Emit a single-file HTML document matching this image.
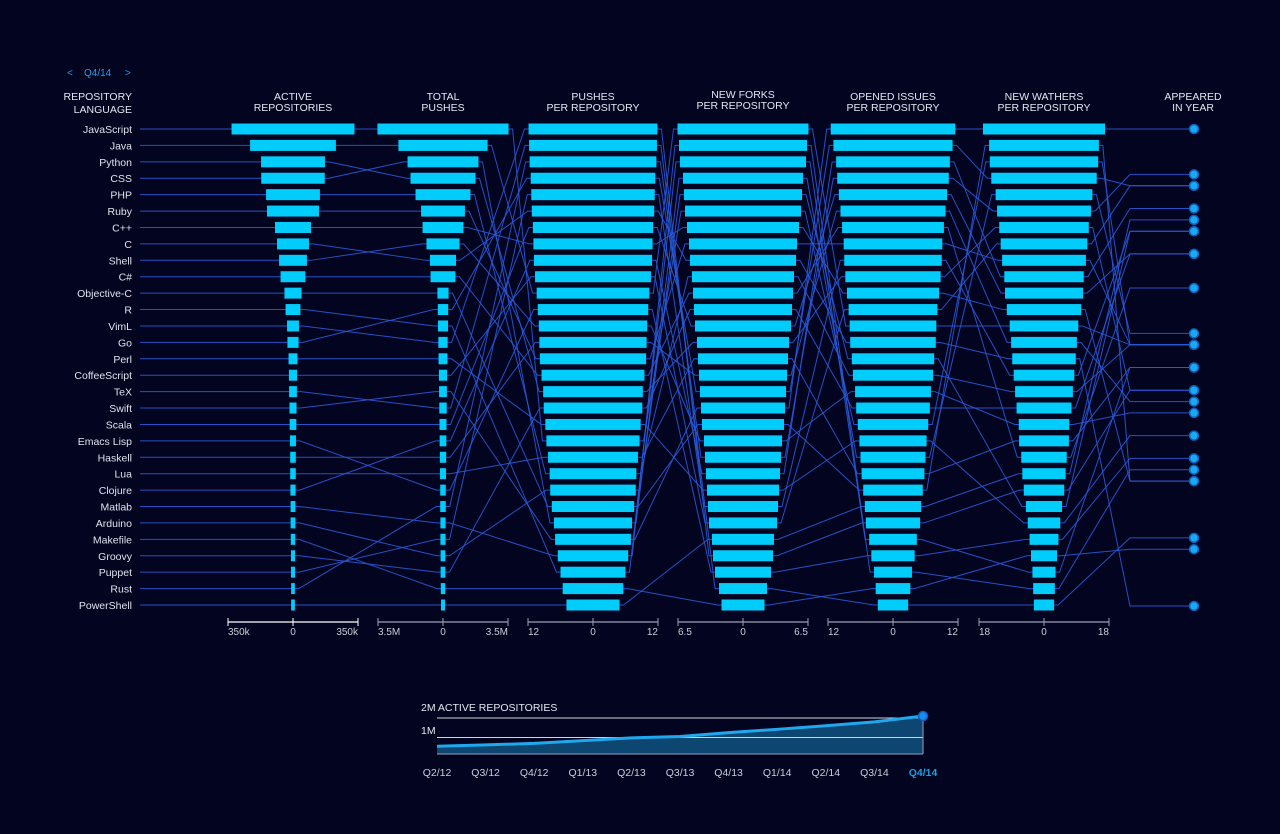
<!DOCTYPE html>
<html><head><meta charset="utf-8"><style>
html,body{margin:0;padding:0;background:#03041f;}
svg{display:block;font-family:"Liberation Sans",sans-serif;}
</style></head><body>
<svg id="c" width="1280" height="834" viewBox="0 0 1280 834">
<rect width="1280" height="834" fill="#03041f"/>
<g>
<text x="67" y="76" fill="#1e9fe8" font-size="10">&lt;</text>
<text x="84" y="76" fill="#1e9fe8" font-size="10">Q4/14</text>
<text x="125" y="76" fill="#1e9fe8" font-size="10">&gt;</text>
</g>
<text x="132" y="100" fill="#e2e6f0" font-size="10.5" text-anchor="end"><tspan x="132">REPOSITORY</tspan><tspan x="132" dy="13">LANGUAGE</tspan></text>
<g id="lines"></g>
<g id="bars"></g>
<g id="labels"></g>
<g id="axes"></g>
<g id="mini"></g>
</svg>
<script>
const NS="http://www.w3.org/2000/svg";
const languages=["JavaScript","Java","Python","CSS","PHP","Ruby","C++","C","Shell","C#","Objective-C","R","VimL","Go","Perl","CoffeeScript","TeX","Swift","Scala","Emacs Lisp","Haskell","Lua","Clojure","Matlab","Arduino","Makefile","Groovy","Puppet","Rust","PowerShell"];
const activeRepos=[331,231,172,171,145,140,97,86,75,67,46,40,32,30,24,22,21,19,18,16,15,15,14,13,13,12,11,11,10,10];
const totalPushes=[3.53,2.4,1.75,1.91,1.48,1.18,1.1,0.7,0.89,0.67,0.3,0.27,0.25,0.28,0.24,0.22,0.2,0.21,0.19,0.15,0.17,0.16,0.18,0.14,0.13,0.12,0.13,0.14,0.15,0.11];
const pushesPerRepo=[8.6,10.4,9.2,7.2,8.0,9.8,11.0,11.3,10.0,9.5,7.6,6.0,11.9,11.5,8.8,10.7,11.8,7.0,11.1,10.2,9.9,8.3,10.9,6.5,7.9,5.6,9.1,11.4,11.7,4.9];
const forksPerRepo=[5.8,6.55,4.6,6.0,5.1,5.4,5.6,5.3,3.9,5.0,4.1,6.3,3.0,4.3,3.6,3.4,2.4,4.2,4.8,2.8,4.4,4.5,3.7,6.4,5.9,2.15,4.9,3.5,3.8,3.1];
const issuesPerRepo=[6.5,8.0,8.8,6.0,7.4,9.1,8.5,7.9,7.0,9.4,5.5,4.4,5.0,11.0,6.2,8.2,2.8,11.5,10.0,4.0,9.7,5.8,10.5,3.5,7.6,3.2,6.8,9.0,10.3,5.2];
const watchersPerRepo=[15.0,9.5,12.4,13.4,8.0,11.6,10.3,8.8,7.0,6.3,15.2,3.2,5.6,14.6,4.5,12.0,2.8,16.9,10.8,4.0,9.1,6.9,11.0,3.0,5.0,3.6,7.6,8.4,13.0,6.0];
const appearedYear=[1995,1995,1991,1996,1995,1995,1983,1972,1989,2000,1983,1993,1991,2009,1987,2009,1978,2014,2003,1985,1990,1993,2007,1984,2005,1977,2003,2005,2010,2006];
const columnTitles=[["ACTIVE","REPOSITORIES"],["TOTAL","PUSHES"],["PUSHES","PER REPOSITORY"],["NEW FORKS","PER REPOSITORY"],["OPENED ISSUES","PER REPOSITORY"],["NEW WATHERS","PER REPOSITORY"]];
const axisMax=[350,3.5,12,6.5,12,18];
const axisLabels=[["350k","0","350k"],["3.5M","0","3.5M"],["12","0","12"],["6.5","0","6.5"],["12","0","12"],["18","0","18"]];
const quarters=["Q2/12","Q3/12","Q4/12","Q1/13","Q2/13","Q3/13","Q4/13","Q1/14","Q2/14","Q3/14","Q4/14"];
const activeTotalM=[0.55,0.62,0.7,0.84,0.98,1.05,1.25,1.42,1.6,1.8,2.1];

const cols=[activeRepos,totalPushes,pushesPerRepo,forksPerRepo,issuesPerRepo,watchersPerRepo];
const centers=[293,443,593,743,893,1044];
const HALF=65,Y0=129,STEP=(605-129)/29,BH=11;
const rowY=r=>Y0+r*STEP;
const halfW=(c,v)=>v/axisMax[c]*HALF;
const yearY=y=>129+(2014-y)*477/42;
function el(t,a,p){const e=document.createElementNS(NS,t);for(const k in a)e.setAttribute(k,a[k]);if(p)p.appendChild(e);return e;}
const gL=document.getElementById('lines'),gB=document.getElementById('bars'),gT=document.getElementById('labels'),gA=document.getElementById('axes');
const ranks=cols.map(arr=>{const idx=arr.map((v,i)=>i).sort((a,b)=>arr[b]-arr[a]||a-b);const r=[];idx.forEach((i,k)=>r[i]=k);return r;});
const svg=document.getElementById('c');
// titles
columnTitles.forEach((t,c)=>{
 const tx=el('text',{x:centers[c],y:c<2?100:(c==3?98:100),fill:'#e2e6f0','font-size':'10.5','text-anchor':'middle'},svg);
 
 
 const a=el('tspan',{x:centers[c]},tx);a.textContent=t[0];
 const b=el('tspan',{x:centers[c],dy:11},tx);b.textContent=t[1];
});
{const tx=el('text',{x:1193,y:100,fill:'#e2e6f0','font-size':'10.5','text-anchor':'middle'},svg);


el('tspan',{x:1193},tx).textContent="APPEARED";el('tspan',{x:1193,dy:11},tx).textContent="IN YEAR";}
const LC='#2a5ad8';
languages.forEach((lang,i)=>{
 const t=el('text',{x:132,y:rowY(i)+4,fill:'#dfe3ee','font-size':'10.5','text-anchor':'end'},gT);
 
 
 t.textContent=lang;
 let pts=[[140,rowY(ranks[0][i])]];
 cols.forEach((arr,c)=>{
  const y=rowY(ranks[c][i]),h=halfW(c,arr[i]);
  const xl=centers[c]-h,xr=centers[c]+h;
  pts.push([xl-4,y],[xl,y],[xr,y],[xr+4,y]);
  const r=el('rect',{x:xl,y:y-BH/2,width:Math.max(2*h,3),height:BH,fill:'#00cdfb'},gB);
  
  
 });
 const dy=yearY(appearedYear[i]);
 pts.push([1130,dy],[1194,dy]);
 const p=el('polyline',{points:pts.map(p=>p.join(',')).join(' '),fill:'none',stroke:LC,'stroke-width':1,opacity:0.9},gL);
 
 
 const d=el('circle',{cx:1194,cy:dy,r:4.5,fill:'#1aa8f0',stroke:'#0a5fbf','stroke-width':1.5},svg);
 
 
});
// axes
centers.forEach((cx,c)=>{
 const col=c==0?'#ffffff':'#9aa0b4';
 el('line',{x1:cx-HALF,x2:cx+HALF,y1:622,y2:622,stroke:col,'stroke-width':1.3},gA);
 [-HALF,0,HALF].forEach((o,k)=>{
  el('line',{x1:cx+o,x2:cx+o,y1:618,y2:626,stroke:col},gA);
  const t=el('text',{x:cx+o,y:635,fill:'#c9cdd9','font-size':'10','text-anchor':k==0?'start':k==2?'end':'middle'},gA);
  
  
  t.textContent=axisLabels[c][k];
 });
});
// mini chart
const gM=document.getElementById('mini');
const mx=i=>437+i*(923-437)/(quarters.length-1);
const my=v=>757-v*19.5;
let area=`M437,754 `+activeTotalM.map((v,i)=>`L${mx(i)},${my(v)}`).join(' ')+` L923,754 Z`;
const ar=el('path',{d:area,fill:'#0d4670'},gM);


el('line',{x1:437,x2:923,y1:my(1),y2:my(1),stroke:'#d0d4de','stroke-width':1},gM);
el('line',{x1:437,x2:923,y1:my(2),y2:my(2),stroke:'#d0d4de','stroke-width':1},gM);
el('line',{x1:923,x2:923,y1:my(2.1),y2:754,stroke:'#9aa0b4','stroke-width':1},gM);
el('line',{x1:437,x2:923,y1:754,y2:754,stroke:'#9aa0b4','stroke-width':1},gM);
const ln=el('polyline',{points:activeTotalM.map((v,i)=>mx(i)+','+my(v)).join(' '),fill:'none',stroke:'#1fa8ee','stroke-width':3},gM);


const ed=el('circle',{cx:mx(10),cy:my(activeTotalM[10]),r:4.5,fill:'#1a8cf0',stroke:'#0a5fbf','stroke-width':1.5},gM);


const t2=el('text',{x:421,y:711,fill:'#e2e6f0','font-size':'10.5'},gM);t2.textContent="2M ACTIVE REPOSITORIES";


const t1=el('text',{x:421,y:734,fill:'#e2e6f0','font-size':'10.5'},gM);t1.textContent="1M";


quarters.forEach((q,i)=>{
 const last=i==quarters.length-1;
 const t=el('text',{x:mx(i),y:776,fill:last?'#1e9fe8':'#c9cdd9','font-size':'10.5','text-anchor':'middle','font-weight':last?'bold':'normal'},gM);
 
 
 t.textContent=q;
});
</script>
</body></html>
